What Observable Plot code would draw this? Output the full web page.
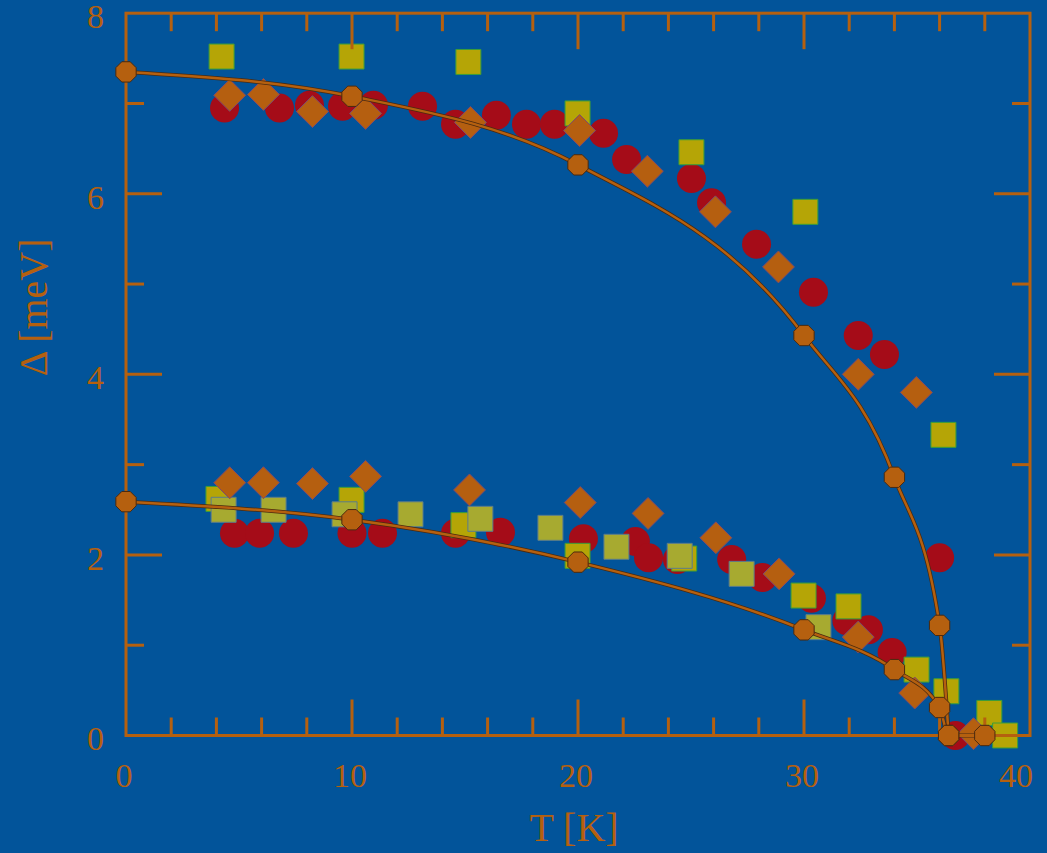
<!DOCTYPE html>
<html>
<head>
<meta charset="utf-8">
<script src="https://cdn.jsdelivr.net/npm/d3@7"></script>
<script src="https://cdn.jsdelivr.net/npm/@observablehq/plot@0.6"></script>
<style>
html, body { margin: 0; padding: 0; background: #02549a; overflow: hidden; }
</style>
</head>
<body>
<div id="chart"></div>
<script>
// ---- data: [T (K), gap (meV)] ----
const redCircles = [
  [4.36,6.95],[6.79,6.95],[8.12,6.98],[9.58,6.97],[10.95,6.98],[13.12,6.97],[14.58,6.77],
  [16.39,6.87],[17.72,6.77],[18.96,6.77],[21.13,6.67],[22.15,6.38],[25.02,6.17],[25.91,5.90],
  [27.9,5.44],[30.42,4.91],[32.4,4.43],[33.56,4.22],[36.0,1.97],[36.7,0],
  [4.80,2.24],[5.91,2.24],[7.41,2.24],[10.0,2.24],[11.35,2.24],[14.58,2.24],[16.57,2.25],
  [20.24,2.18],[22.54,2.15],[23.12,1.97],[24.4,1.95],[26.8,1.95],[28.16,1.75],[30.33,1.52],
  [31.9,1.27],[32.85,1.17],[33.9,0.92]
];
const yellowSquares = [
  [4.23,7.52],[9.98,7.52],[15.15,7.46],[19.98,6.89],[25.02,6.46],[30.06,5.80],[36.17,3.33],
  [4.09,2.62],[9.98,2.61],[14.93,2.33],[19.98,1.99],[24.7,1.96],[29.98,1.55],[31.97,1.43],
  [34.98,0.73],[36.3,0.49],[38.2,0.25],[38.9,0]
];
const oliveSquares = [
  [4.32,2.50],[6.53,2.50],[9.67,2.45],[12.59,2.45],[15.68,2.40],[18.78,2.30],[21.7,2.09],
  [24.5,1.99],[27.24,1.79],[30.64,1.20]
];
const orangeDiamonds = [
  [4.59,7.09],[6.08,7.10],[8.25,6.91],[10.6,6.89],[15.24,6.79],[20.07,6.70],[23.07,6.25],
  [26.08,5.80],[28.87,5.19],[32.4,4.00],[34.97,3.80],[37.5,0.02],
  [4.59,2.80],[6.08,2.80],[8.25,2.79],[10.6,2.87],[15.2,2.72],[20.1,2.58],[23.1,2.46],
  [26.1,2.19],[28.9,1.79],[32.4,1.09],[34.9,0.47]
];
const upperFit = [[0,7.35],[10,7.08],[20,6.32],[30,4.43],[34,2.86],[36,1.22],[36.4,0]];
const lowerFit = [[0,2.59],[10,2.39],[20,1.92],[30,1.17],[34,0.73],[36,0.31],[36.4,0],[38,0]];

const xLabelTicks = [0, 10, 20, 30];
const xLastLabel = [40];
const yLabelTicks = [0, 2, 4, 6, 8];
const xMinorTicks = [2, 4, 6, 8, 12, 14, 16, 18, 22, 24, 26, 28, 32, 34, 36, 38];
const xMajorTicks = [10, 20, 30];
const yMinorTicks = [1, 3, 5, 7];
const yMajorTicks = [2, 4, 6];

// ---- styles ----
const BG = "#02549a";
const ORANGE = "#b5600f";
const SERIF = "Liberation Serif, Times New Roman, serif";

const octagon = {
  draw(ctx, size) {
    const r = Math.sqrt(size / Math.PI);
    for (let i = 0; i < 8; i++) {
      const a = Math.PI / 8 + i * Math.PI / 4;
      const x = r * Math.cos(a), y = r * Math.sin(a);
      if (i) ctx.lineTo(x, y); else ctx.moveTo(x, y);
    }
    ctx.closePath();
  }
};
const tickSym = (dx, dy) => ({ draw(ctx) { ctx.moveTo(0, 0); ctx.lineTo(dx, dy); } });
const MINOR = 18, MAJOR = 36;

const tickStyle = { fill: "none", stroke: ORANGE, strokeWidth: 3, r: 5 };
const labelStyle = { tickSize: 0, tickFormat: d => String(d), label: null, fontSize: 34, fontFamily: SERIF, fill: ORANGE };

const chart = Plot.plot({
  width: 1047,
  height: 853,
  marginLeft: 125.5,
  marginRight: 17.5,
  marginTop: 12.7,
  marginBottom: 118,
  style: { background: BG, overflow: "visible" },
  x: { domain: [0, 40], nice: false },
  y: { domain: [0, 8], nice: false },
  marks: [
    // scatter data
    Plot.dot(redCircles, { x: d => d[0], y: d => d[1], r: 14.5, fill: "#a50c18", stroke: "none" }),
    Plot.dot(yellowSquares, { x: d => d[0], y: d => d[1], symbol: "square", r: 14.1, fill: "#b5a506", stroke: "#3a9e3a", strokeWidth: 1 }),
    Plot.dot(oliveSquares, { x: d => d[0], y: d => d[1], symbol: "square", r: 14.1, fill: "#a7aa30", stroke: "#5b7c8c", strokeWidth: 1 }),
    Plot.dot(orangeDiamonds, { x: d => d[0], y: d => d[1], symbol: "diamond2", r: 14.4, fill: "#b55f10", stroke: "#7a4a70", strokeWidth: 1 }),
    // fit curves
    Plot.line(upperFit, { x: d => d[0], y: d => d[1], curve: "monotone-x", stroke: "#4a2a10", strokeWidth: 4 }),
    Plot.line(upperFit, { x: d => d[0], y: d => d[1], curve: "monotone-x", stroke: ORANGE, strokeWidth: 2.5 }),
    Plot.line(lowerFit, { x: d => d[0], y: d => d[1], curve: "monotone-x", stroke: "#4a2a10", strokeWidth: 4 }),
    Plot.line(lowerFit, { x: d => d[0], y: d => d[1], curve: "monotone-x", stroke: ORANGE, strokeWidth: 2.5 }),
    // frame and inward ticks
    Plot.frame({ stroke: ORANGE, strokeWidth: 3 }),
    Plot.dot(xMinorTicks, { x: d => d, y: 0, symbol: tickSym(0, -MINOR), ...tickStyle }),
    Plot.dot(xMajorTicks, { x: d => d, y: 0, symbol: tickSym(0, -MAJOR), ...tickStyle }),
    Plot.dot(xMinorTicks, { x: d => d, y: 8, symbol: tickSym(0, MINOR), ...tickStyle }),
    Plot.dot(xMajorTicks, { x: d => d, y: 8, symbol: tickSym(0, MAJOR), ...tickStyle }),
    Plot.dot(yMinorTicks, { y: d => d, x: 0, symbol: tickSym(MINOR, 0), ...tickStyle }),
    Plot.dot(yMajorTicks, { y: d => d, x: 0, symbol: tickSym(MAJOR, 0), ...tickStyle }),
    Plot.dot(yMinorTicks, { y: d => d, x: 40, symbol: tickSym(-MINOR, 0), ...tickStyle }),
    Plot.dot(yMajorTicks, { y: d => d, x: 40, symbol: tickSym(-MAJOR, 0), ...tickStyle }),
    // fit points (octagons)
    Plot.dot(upperFit, { x: d => d[0], y: d => d[1], symbol: octagon, r: 11, fill: ORANGE, stroke: "#4a2a10", strokeWidth: 1 }),
    Plot.dot(lowerFit, { x: d => d[0], y: d => d[1], symbol: octagon, r: 11, fill: ORANGE, stroke: "#4a2a10", strokeWidth: 1 }),
    // tick labels
    Plot.axisX({ ticks: xLabelTicks, tickPadding: 27, dx: -2, ...labelStyle }),
    Plot.axisX({ ticks: xLastLabel, tickPadding: 27, dx: -14, ...labelStyle }),
    Plot.axisY({ ticks: yLabelTicks, tickPadding: 22, dy: 4, ...labelStyle }),
    // axis titles
    Plot.text(["T [K]"], { text: d => d, frameAnchor: "bottom", dy: 93, dx: -4, fontSize: 40, fontFamily: SERIF, fill: ORANGE, lineAnchor: "middle" }),
    Plot.text(["\u0394 [meV]"], { text: d => d, frameAnchor: "left", dx: -92, dy: 2, rotate: -90, fontSize: 40, fontFamily: SERIF, fill: ORANGE, lineAnchor: "middle" })
  ]
});
document.getElementById("chart").appendChild(chart);
</script>
</body>
</html>
